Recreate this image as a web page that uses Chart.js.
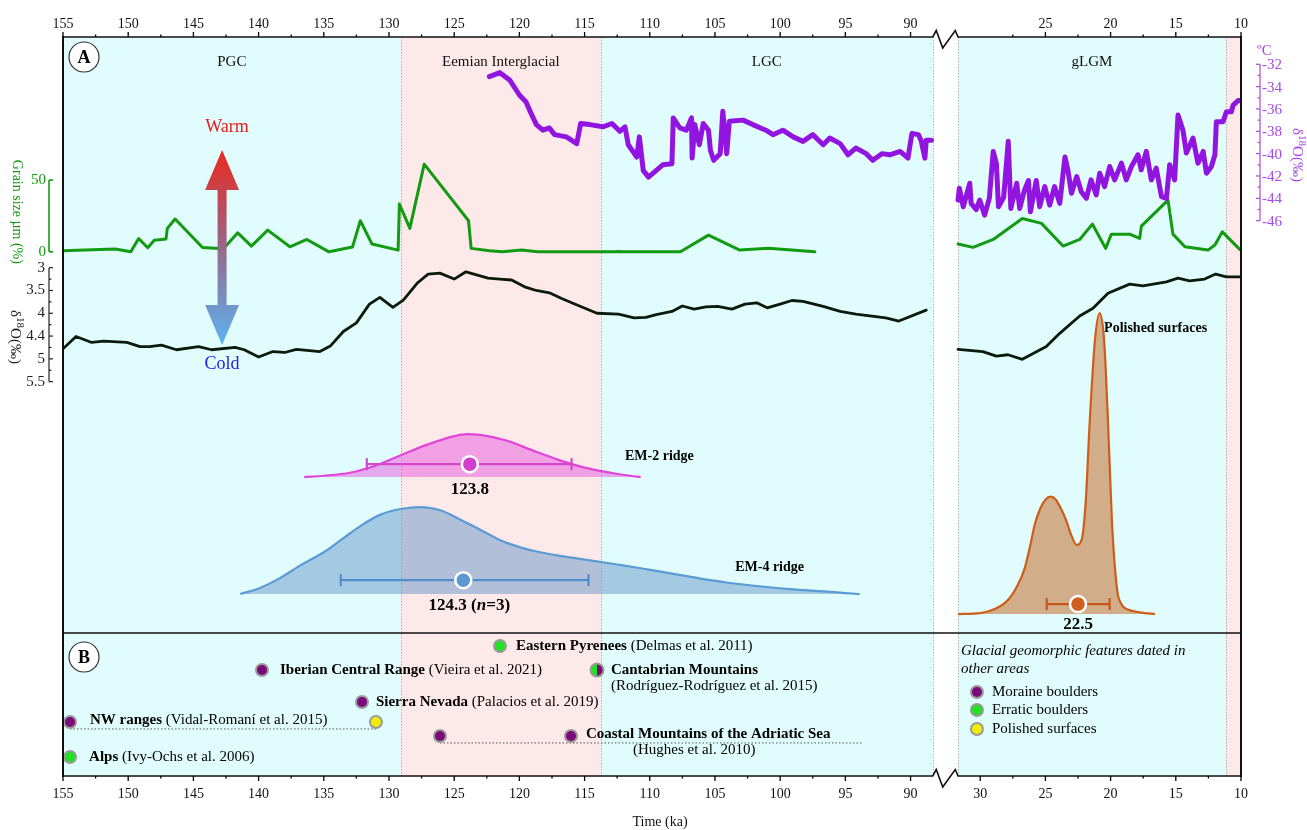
<!DOCTYPE html>
<html lang="en">
<head>
<meta charset="UTF-8">
<title>Glacial chronology and palaeoclimate records</title>
<script src="https://cdn.jsdelivr.net/npm/chart.js@4"></script>
<style>
  body { margin: 0; background: #fff; }
</style>
</head>
<body>
<canvas id="chart" width="1307" height="830"></canvas>
<script>
// ---------------- data (ages in ka) ----------------
const topTicksLeft = [155, 150, 145, 140, 135, 130, 125, 120, 115, 110, 105, 100, 95, 90];
const topTicksRight = [25, 20, 15, 10];
const bottomTicksRight = [30, 25, 20, 15, 10];
const minorTicksLeft = [152.5, 147.5, 142.5, 137.5, 132.5, 127.5, 122.5, 117.5, 112.5, 107.5, 102.5, 97.5, 92.5];
const minorTicksRight = [27.5, 22.5, 17.5, 12.5];

const grainTicks = [0, 50];
const benthicTicks = [3, 3.5, 4, 4.5, 5, 5.5];
const benthicTickLabels = ['3', '3.5', '4', '4.4', '5', '5.5'];
const iceTicks = [-32, -34, -36, -38, -40, -42, -44, -46];

const periodNames = ['PGC', 'Eemian Interglacial', 'LGC', 'gLGM', ''];
const periodStart = [155, 129.1, 113.75, 31.7, 11.15];
const periodEnd = [129.1, 113.75, 88.3, 11.15, 10];
const periodColors = ['#e1fcfc', '#fde9e9', '#e1fcfc', '#e1fcfc', '#fde9e9'];

// grain size (%)
const grainAgeL = [155, 151.0, 149.8, 149.2, 148.5, 148.0, 147.1, 147.0, 146.4, 144.3, 142.7, 141.6, 140.55, 139.3, 137.6, 136.3, 134.6, 132.8, 132.2, 131.3, 129.3, 129.2, 128.4, 127.3, 123.9, 123.7, 122.3, 121.3, 119.85, 118.6, 112.7, 112.4, 112.05, 107.65, 105.5, 103.1, 100.9, 97.35];
const grainL = [0.7, 1.9, 0, 9.3, 2.8, 8.1, 9, 16.3, 22.8, 3, 2.1, 13.2, 4, 15.1, 3.5, 8.6, 0, 3.3, 21.6, 5.4, 1.2, 33.2, 16.3, 61, 21.6, 2.4, 0.7, 0, 1.2, 0, 0, 0.3, 0, 0, 11.6, 1.2, 2.4, 0];
const grainAgeR = [31.7, 30.55, 29.0, 26.77, 25.3, 23.65, 22.37, 21.4, 20.38, 19.94, 18.54, 17.77, 17.64, 15.6, 15.22, 14.3, 12.53, 12.0, 11.43, 10.1];
const grainR = [5.4, 3.1, 8.6, 23.2, 19.8, 4.0, 8.6, 19.3, 2.4, 12.3, 12.3, 9.3, 17.9, 36.0, 12.3, 3.5, 1.2, 4.7, 13.9, 1.7];

// benthic d18O (permil)
const benthicAgeL = [155, 154.0, 152.8, 151.9, 150.1, 149.1, 148.35, 147.45, 146.3, 144.6, 143.6, 141.8, 141.1, 140.0, 138.9, 138.0, 137.1, 135.3, 134.5, 133.5, 132.5, 131.5, 130.7, 129.7, 128.9, 127.8, 127.0, 126.1, 125.0, 124.1, 122.4, 121.5, 120.6, 119.6, 118.7, 117.7, 116.8, 115.9, 114.05, 112.4, 111.2, 110.3, 109.5, 108.3, 107.5, 106.6, 105.7, 104.8, 103.7, 102.7, 101.8, 101.0, 100.0, 99.1, 98.25, 96.7, 95.4, 94.2, 91.9, 90.9, 88.8];
const benthicL = [4.78, 4.51, 4.64, 4.61, 4.64, 4.73, 4.73, 4.70, 4.80, 4.73, 4.80, 4.75, 4.80, 4.96, 4.84, 4.86, 4.79, 4.84, 4.72, 4.40, 4.21, 3.80, 3.65, 3.87, 3.71, 3.33, 3.14, 3.12, 3.25, 3.09, 3.23, 3.25, 3.27, 3.42, 3.50, 3.55, 3.67, 3.78, 4.00, 4.02, 4.10, 4.09, 4.03, 3.96, 3.84, 3.91, 3.86, 3.85, 3.91, 3.80, 3.77, 3.88, 3.80, 3.72, 3.74, 3.85, 3.96, 4.02, 4.10, 4.17, 3.93];
const benthicAgeR = [31.7, 29.8, 28.76, 27.87, 26.77, 24.93, 23.9, 22.37, 21.35, 20.2, 18.54, 17.52, 15.72, 14.83, 13.94, 12.79, 11.94, 11.12, 10.0];
const benthicR = [4.79, 4.84, 4.94, 4.91, 5.01, 4.73, 4.44, 4.06, 3.89, 3.56, 3.36, 3.40, 3.31, 3.23, 3.29, 3.25, 3.14, 3.20, 3.20];

// ice-core d18O (permil)
const iceAgeL = [122.3, 121.5, 120.75, 120.0, 119.5, 119.1, 118.7, 118.2, 117.7, 117.3, 116.4, 115.6, 115.3, 114.6, 113.6, 112.9, 112.3, 111.9, 111.65, 111.0, 110.8, 110.5, 110.1, 109.5, 109.0, 108.3, 108.2, 107.7, 107.2, 106.8, 106.75, 106.55, 106.2, 105.9, 105.5, 105.35, 105.1, 104.6, 104.4, 104.1, 103.9, 102.85, 102.1, 101.1, 100.55, 99.8, 99.0, 98.25, 97.5, 96.7, 96.2, 95.4, 94.8, 94.2, 93.4, 92.9, 92.2, 91.6, 90.8, 90.2, 89.9, 89.4, 89.2, 88.9, 88.8, 88.4];
const iceL = [-33.1, -32.75, -33.4, -34.75, -35.35, -36.4, -37.4, -37.9, -37.7, -38.3, -38.5, -39.1, -37.3, -37.4, -37.6, -37.3, -38.0, -37.6, -39.2, -40.3, -38.5, -41.5, -42.1, -41.5, -41.0, -40.9, -36.8, -37.7, -37.9, -36.8, -40.4, -37.4, -39.2, -37.3, -37.9, -39.7, -40.6, -40.0, -36.2, -40.0, -37.1, -37.0, -37.4, -37.9, -38.3, -37.9, -38.5, -38.9, -38.3, -39.2, -38.6, -39.1, -40.1, -39.5, -40.0, -40.6, -40.0, -40.1, -39.8, -40.4, -38.2, -38.3, -38.8, -40.4, -38.8, -38.8];
const iceAgeR = [31.7, 31.6, 31.3, 30.8, 30.7, 30.3, 30.04, 29.66, 29.3, 29.0, 28.76, 28.6, 28.2, 27.85, 27.65, 27.2, 26.97, 26.6, 26.3, 26.15, 25.7, 25.44, 25.05, 24.67, 24.3, 23.9, 23.5, 23.27, 23.0, 22.6, 22.25, 21.86, 21.5, 21.1, 20.84, 20.46, 20.07, 19.69, 19.17, 18.8, 18.4, 17.9, 17.65, 17.26, 16.88, 16.5, 16.1, 15.72, 15.47, 15.09, 14.83, 14.45, 14.19, 13.68, 13.3, 12.9, 12.65, 12.27, 12.0, 11.89, 11.38, 11.12, 10.74, 10.6, 10.23, 10.1];
const iceR = [-44.15, -43.1, -44.75, -42.65, -44.45, -45.0, -44.15, -45.5, -44.0, -39.8, -40.9, -44.75, -43.9, -38.9, -44.9, -42.65, -44.9, -43.25, -42.4, -45.2, -42.4, -44.75, -42.95, -44.6, -42.95, -44.45, -40.3, -41.5, -43.55, -42.05, -43.4, -44.0, -42.35, -43.7, -41.75, -42.95, -41.15, -42.35, -40.85, -42.35, -41.15, -40.1, -41.45, -39.8, -42.35, -41.3, -43.85, -44.0, -41.0, -42.35, -36.55, -37.9, -39.95, -38.6, -40.85, -39.8, -41.75, -41.15, -40.1, -37.15, -37.15, -36.25, -36.25, -35.65, -35.25, -35.25];

// probability density of exposure ages (relative)
const em2Age = [136.5, 135, 133, 131, 129, 127, 125, 124, 123, 121, 119, 117, 115, 113, 111.5, 110.7];
const em2Pdf = [0, 0.03, 0.1, 0.27, 0.52, 0.76, 0.95, 1.0, 0.98, 0.85, 0.62, 0.4, 0.22, 0.1, 0.03, 0];
const em4Age = [141.4, 139.9, 138.4, 136.8, 135, 133.7, 132, 130.7, 129, 127.6, 126, 124.6, 123, 121.5, 120, 118.4, 116.5, 114.7, 112.5, 110.8, 108.5, 106.2, 104, 101.6, 99, 97, 95, 93.9];
const em4Pdf = [0, 0.07, 0.18, 0.33, 0.48, 0.62, 0.8, 0.91, 0.98, 1.0, 0.96, 0.86, 0.74, 0.62, 0.54, 0.48, 0.43, 0.39, 0.34, 0.3, 0.24, 0.18, 0.13, 0.09, 0.055, 0.035, 0.012, 0];
const polAge = [31.7, 30, 29.3, 28.5, 27.8, 27.2, 26.6, 26.2, 25.8, 25.4, 25.0, 24.6, 24.2, 23.8, 23.4, 23.0, 22.6, 22.2, 21.9, 21.6, 21.2, 20.84, 20.5, 20.2, 19.9, 19.5, 19.2, 18.9, 18.3, 17.5, 16.6];
const polPdf = [0, 0.003, 0.01, 0.025, 0.05, 0.09, 0.15, 0.22, 0.3, 0.35, 0.38, 0.39, 0.38, 0.35, 0.31, 0.26, 0.23, 0.25, 0.38, 0.64, 0.91, 1.0, 0.91, 0.64, 0.31, 0.08, 0.035, 0.02, 0.01, 0.004, 0];

// mean ages with uncertainty range
const meanAges = [123.8, 124.3, 22.5];
const meanLow = [131.7, 133.7, 24.9];
const meanHigh = [116.0, 114.7, 20.07];
const meanLevel = [0.30, 0.16, 0.033];
const meanLabels = ['123.8', '124.3 (n=3)', '22.5'];

// panel B: dated sites (rows counted down from the panel top)
const moraineAge = [139.74, 132.07, 154.46, 126.09, 116.04];
const moraineRow = [2.59, 4.83, 6.22, 7.2, 7.2];
const erraticAge = [121.49, 154.46];
const erraticRow = [0.91, 8.67];
const polishedAge = [131.0];
const polishedRow = [6.22];
const mixedAge = [114.05];
const mixedRow = [2.59];
const nwLinkAge = [154.46, 131.0];
const adriaticLinkAge = [126.09, 93.75];

const siteNames = ['Eastern Pyrenees', 'Iberian Central Range', 'Cantabrian Mountains', 'Sierra Nevada', 'NW ranges', 'Coastal Mountains of the Adriatic Sea', 'Alps'];
const siteRefs = [' (Delmas et al. 2011)', ' (Vieira et al. 2021)', '', ' (Palacios et al. 2019)', ' (Vidal-Romaní et al. 2015)', '', ' (Ivy-Ochs et al. 2006)'];
const siteLabelAge = [120.26, 138.36, 112.98, 131.0, 152.93, 114.9, 153.0];
const siteLabelRow = [0.91, 2.59, 2.59, 4.83, 6.08, 7.06, 8.67];
const extraRefs = ['(Rodríguez-Rodríguez et al. 2015)', '(Hughes et al. 2010)'];
const extraRefAge = [112.98, 111.29];
const extraRefRow = [3.71, 8.18];

const legendNames = ['Moraine boulders', 'Erratic boulders', 'Polished surfaces'];
const legendRow = [4.13, 5.38, 6.71];

// ---------------- broken time axis ----------------
const BREAK_OLD = 88.3, BREAK_YOUNG = 31.7, GAP = 1.94;
function toU(ka) {
  return ka >= 60 ? 155 - ka : (155 - BREAK_OLD) + GAP + (BREAK_YOUNG - ka);
}
function pts(ages, vals) {
  return ages.map((a, i) => ({ x: toU(a), y: vals[i] }));
}
function flat(ages, level) {
  return ages.map(a => ({ x: toU(a), y: level }));
}

const SERIF = '"Liberation Serif", "Times New Roman", serif';
const GREEN = '#129a12';
const PURPLE = '#9214e0';
const PURPLE_AXIS = '#a848e8';

// split marker (erratic + moraine)
const mixed = document.createElement('canvas');
mixed.width = 16; mixed.height = 16;
(function () {
  const c = mixed.getContext('2d');
  c.beginPath(); c.arc(8, 8, 6.5, Math.PI / 2, Math.PI * 1.5); c.fillStyle = '#22e022'; c.fill();
  c.beginPath(); c.arc(8, 8, 6.5, -Math.PI / 2, Math.PI / 2); c.fillStyle = '#7a0a7a'; c.fill();
  c.beginPath(); c.arc(8, 8, 6.5, 0, Math.PI * 2); c.strokeStyle = '#999'; c.lineWidth = 2; c.stroke();
})();

function marker(data, color) {
  return {
    data, yAxisID: 'yR', showLine: false,
    pointRadius: 6, pointBackgroundColor: color, pointBorderColor: '#9a9a9a', pointBorderWidth: 2
  };
}
function errBar(i, color, axis) {
  return {
    data: [{ x: toU(meanLow[i]), y: meanLevel[i] }, { x: toU(meanHigh[i]), y: meanLevel[i] }],
    yAxisID: axis, borderColor: color, borderWidth: 2.2,
    pointStyle: 'line', pointRotation: 90, pointRadius: 6, pointBorderWidth: 2.2, pointBorderColor: color
  };
}
function meanDot(i, color, axis) {
  return {
    data: [{ x: toU(meanAges[i]), y: meanLevel[i] }], yAxisID: axis, showLine: false,
    pointRadius: 8, pointBackgroundColor: color, pointBorderColor: '#fff', pointBorderWidth: 2.5
  };
}
function pdf(ages, vals, axis, line, fill) {
  return {
    data: pts(ages, vals), yAxisID: axis, borderColor: line, borderWidth: 2.2,
    backgroundColor: fill, fill: 'origin', pointRadius: 0, cubicInterpolationMode: 'monotone'
  };
}
function curve(ages, vals, axis, color, width) {
  return {
    data: pts(ages, vals), yAxisID: axis, borderColor: color, borderWidth: width,
    borderJoinStyle: 'round', borderCapStyle: 'round', pointRadius: 0, tension: 0
  };
}

const datasets = [
  marker(pts(mixedAge, mixedRow), '#7a0a7a'),
  marker(pts(moraineAge, moraineRow), '#7a0a7a'),
  marker(pts(erraticAge, erraticRow), '#22e022'),
  marker(pts(polishedAge, polishedRow), '#f2ec0a'),
  marker(flat([30.25], legendRow[0]), '#7a0a7a'),
  marker(flat([30.25], legendRow[1]), '#22e022'),
  marker(flat([30.25], legendRow[2]), '#f2ec0a'),
  { data: flat(nwLinkAge, 6.71), yAxisID: 'yR', borderColor: '#555', borderWidth: 1, borderDash: [1.5, 2], pointRadius: 0 },
  { data: flat(adriaticLinkAge, 7.69), yAxisID: 'yR', borderColor: '#555', borderWidth: 1, borderDash: [1.5, 2], pointRadius: 0 },
  meanDot(0, '#d23fcf', 'yP'),
  meanDot(1, '#5b98d2', 'yE'),
  meanDot(2, '#cf5f1c', 'yO'),
  errBar(0, '#d447ce', 'yP'),
  errBar(1, '#4f8ecb', 'yE'),
  errBar(2, '#c8561a', 'yO'),
  pdf(em2Age, em2Pdf, 'yP', '#e046da', 'rgba(230,100,222,0.55)'),
  pdf(em4Age, em4Pdf, 'yE', '#5b9bd5', 'rgba(104,150,200,0.5)'),
  pdf(polAge, polPdf, 'yO', '#cc5e18', 'rgba(200,120,60,0.6)'),
  curve(iceAgeL, iceL, 'yI', PURPLE, 5),
  curve(iceAgeR, iceR, 'yI', PURPLE, 5),
  curve(grainAgeL, grainL, 'yG', GREEN, 3),
  curve(grainAgeR, grainR, 'yG', GREEN, 3),
  curve(benthicAgeL, benthicL, 'yB', '#0c1a0c', 2.8),
  curve(benthicAgeR, benthicR, 'yB', '#0c1a0c', 2.8)
];
datasets[0].pointStyle = mixed;

// ---------------- decorations ----------------
function seg(ctx, x1, y1, x2, y2) {
  ctx.beginPath(); ctx.moveTo(x1, y1); ctx.lineTo(x2, y2); ctx.stroke();
}
function rich(ctx, x, y, parts, size) {
  let cx = x;
  parts.forEach(([t, bold]) => {
    ctx.font = (bold ? 'bold ' : '') + size + 'px ' + SERIF;
    ctx.fillText(t, cx, y);
    cx += ctx.measureText(t).width;
  });
}
function deltaLabel(ctx, cx, cy, color) {
  ctx.save();
  ctx.translate(cx, cy);
  ctx.rotate(Math.PI / 2);
  ctx.fillStyle = color;
  ctx.textAlign = 'left';
  ctx.textBaseline = 'middle';
  const parts = [['δ', 15, 0], ['18', 11, -5], ['O(‰)', 15, 0]];
  let w = 0;
  parts.forEach(p => { ctx.font = p[1] + 'px ' + SERIF; w += ctx.measureText(p[0]).width; });
  let x = -w / 2;
  parts.forEach(p => { ctx.font = p[1] + 'px ' + SERIF; ctx.fillText(p[0], x, p[2]); x += ctx.measureText(p[0]).width; });
  ctx.restore();
}
function panelTag(ctx, x, y, t) {
  ctx.beginPath(); ctx.arc(x, y, 15, 0, Math.PI * 2);
  ctx.fillStyle = '#fff'; ctx.fill();
  ctx.strokeStyle = '#333'; ctx.lineWidth = 1.2; ctx.stroke();
  ctx.fillStyle = '#000'; ctx.font = 'bold 18px ' + SERIF;
  ctx.textAlign = 'center'; ctx.textBaseline = 'middle';
  ctx.fillText(t, x, y + 1);
}

const decor = {
  id: 'decor',
  beforeDatasetsDraw(chart) {
    const { ctx, chartArea: a, scales } = chart;
    const X = ka => scales.x.getPixelForValue(toU(ka));
    ctx.save();
    for (let i = 0; i < periodNames.length; i++) {
      const x1 = X(periodStart[i]), x2 = X(periodEnd[i]);
      ctx.fillStyle = periodColors[i];
      ctx.fillRect(x1, a.top, x2 - x1, a.bottom - a.top);
    }
    ctx.strokeStyle = '#b0b0b0'; ctx.lineWidth = 1; ctx.setLineDash([1.5, 1.5]);
    [129.1, 113.75, 88.3, 31.7, 11.15].forEach(b => {
      const p = Math.round(X(b)) + 0.5;
      seg(ctx, p, a.top, p, a.bottom);
    });
    ctx.restore();
  },
  afterDatasetsDraw(chart) {
    const { ctx, chartArea: a, scales } = chart;
    const X = ka => scales.x.getPixelForValue(toU(ka));
    const yR = scales.yR;
    ctx.save();

    // panel divider
    const yDiv = yR.getPixelForValue(0);
    ctx.strokeStyle = '#111'; ctx.lineWidth = 1.6;
    seg(ctx, a.left, yDiv, a.right, yDiv);

    // frame + broken time axes
    ctx.lineWidth = 2;
    seg(ctx, a.left, a.top - 1, a.left, a.bottom + 1);
    seg(ctx, a.right, a.top - 1, a.right, a.bottom + 1);
    const xb = X(BREAK_OLD), xe = X(BREAK_YOUNG);
    [a.top, a.bottom].forEach(y => {
      ctx.lineWidth = 1.6;
      ctx.beginPath();
      ctx.moveTo(a.left, y); ctx.lineTo(xb, y);
      ctx.lineTo(xb + 3.5, y - 6.5); ctx.lineTo(xb + 10, y + 11);
      ctx.lineTo(xb + 22.5, y - 6.5); ctx.lineTo(xe, y); ctx.lineTo(a.right, y);
      ctx.stroke();
    });

    // ticks
    ctx.lineWidth = 1.3; ctx.strokeStyle = '#000';
    const majTop = topTicksLeft.concat(topTicksRight);
    const majBot = topTicksLeft.concat(bottomTicksRight);
    const minors = minorTicksLeft.concat(minorTicksRight);
    majTop.forEach(t => seg(ctx, X(t), a.top, X(t), a.top - 5));
    majBot.forEach(t => seg(ctx, X(t), a.bottom, X(t), a.bottom + 5));
    minors.forEach(t => { seg(ctx, X(t), a.top, X(t), a.top - 2.5); seg(ctx, X(t), a.bottom, X(t), a.bottom + 2.5); });
    ctx.fillStyle = '#111'; ctx.font = '14px ' + SERIF; ctx.textAlign = 'center'; ctx.textBaseline = 'alphabetic';
    majTop.forEach(t => ctx.fillText(String(t), X(t), a.top - 9));
    majBot.forEach(t => ctx.fillText(String(t), X(t), a.bottom + 22));
    ctx.font = '14px ' + SERIF;
    ctx.fillText('Time (ka)', (a.left + a.right) / 2 + 8, a.bottom + 50);

    // period names
    ctx.font = '15px ' + SERIF; ctx.textBaseline = 'middle';
    for (let i = 0; i < periodNames.length; i++) {
      ctx.fillText(periodNames[i], (X(periodStart[i]) + X(periodEnd[i])) / 2, a.top + 25);
    }

    // grain size axis
    const yG = scales.yG;
    const gx = 49;
    ctx.strokeStyle = GREEN; ctx.fillStyle = GREEN; ctx.lineWidth = 1.6;
    seg(ctx, gx, yG.getPixelForValue(50), gx, yG.getPixelForValue(0));
    ctx.font = '15px ' + SERIF; ctx.textAlign = 'right'; ctx.textBaseline = 'middle';
    grainTicks.forEach(t => {
      const y = yG.getPixelForValue(t);
      seg(ctx, gx, y, gx + 4, y);
      ctx.fillText(String(t), gx - 3, y);
    });
    ctx.save();
    ctx.translate(17, (yG.getPixelForValue(50) + yG.getPixelForValue(0)) / 2 - 4);
    ctx.rotate(Math.PI / 2);
    ctx.textAlign = 'center'; ctx.font = '14px ' + SERIF;
    ctx.fillText('Grain size µm (%)', 0, 0);
    ctx.restore();

    // benthic d18O axis
    const yB = scales.yB;
    ctx.strokeStyle = '#222'; ctx.fillStyle = '#222'; ctx.lineWidth = 1.2;
    seg(ctx, gx, yB.getPixelForValue(3), gx, yB.getPixelForValue(5.5));
    for (let v = 3; v <= 5.5001; v += 0.25) {
      const y = yB.getPixelForValue(v);
      seg(ctx, gx, y, gx + (Math.abs(v * 2 - Math.round(v * 2)) < 0.01 ? 4 : 2.5), y);
    }
    ctx.font = '15px ' + SERIF; ctx.textAlign = 'right';
    benthicTicks.forEach((t, i) => ctx.fillText(benthicTickLabels[i], gx - 4, yB.getPixelForValue(t)));
    deltaLabel(ctx, 15, 337, '#222');

    // ice-core axis (right)
    const yI = scales.yI;
    const ix = 1260;
    ctx.strokeStyle = PURPLE_AXIS; ctx.fillStyle = PURPLE_AXIS; ctx.lineWidth = 1.2;
    seg(ctx, ix, yI.getPixelForValue(-32), ix, yI.getPixelForValue(-46));
    for (let v = -32; v >= -46; v--) {
      const y = yI.getPixelForValue(v);
      seg(ctx, ix, y, ix - (v % 2 === 0 ? 4 : 2.5), y);
    }
    ctx.font = '15px ' + SERIF; ctx.textAlign = 'left';
    iceTicks.forEach(t => ctx.fillText(String(t), ix + 2, yI.getPixelForValue(t) + 1));
    ctx.fillText('ºC', ix - 3, yI.getPixelForValue(-32) - 13);
    deltaLabel(ctx, 1297, 155, PURPLE_AXIS);

    // density labels
    ctx.fillStyle = '#000'; ctx.textAlign = 'center';
    const pdfAxes = ['yP', 'yE', 'yO'];
    const labelDrop = [25, 25, 20];
    meanAges.forEach((m, i) => {
      const y = scales[pdfAxes[i]].getPixelForValue(meanLevel[i]) + labelDrop[i];
      if (i === 1) {
        ctx.textAlign = 'left';
        const parts = [['124.3 (', true], ['n', 'i'], ['=3)', true]];
        let w = 0;
        parts.forEach(p => { ctx.font = (p[1] === 'i' ? 'bold italic ' : 'bold ') + '17px ' + SERIF; w += ctx.measureText(p[0]).width; });
        let cx = X(m) - w / 2 + 6;
        parts.forEach(p => { ctx.font = (p[1] === 'i' ? 'bold italic ' : 'bold ') + '17px ' + SERIF; ctx.fillText(p[0], cx, y); cx += ctx.measureText(p[0]).width; });
        ctx.textAlign = 'center';
      } else {
        ctx.font = 'bold 17px ' + SERIF;
        ctx.fillText(meanLabels[i], X(m), y);
      }
    });
    ctx.textAlign = 'left'; ctx.font = 'bold 14px ' + SERIF;
    ctx.fillText('EM-2 ridge', X(111.9), scales.yP.getPixelForValue(0.47));
    ctx.fillText('EM-4 ridge', X(103.45), scales.yE.getPixelForValue(0.31));
    ctx.fillText('Polished surfaces', X(20.5), scales.yO.getPixelForValue(0.95));

    // panel B site labels
    ctx.fillStyle = '#000'; ctx.textBaseline = 'middle';
    siteNames.forEach((n, i) => {
      rich(ctx, X(siteLabelAge[i]), yR.getPixelForValue(siteLabelRow[i]), [[n, true], [siteRefs[i], false]], 15);
    });
    extraRefs.forEach((t, i) => rich(ctx, X(extraRefAge[i]), yR.getPixelForValue(extraRefRow[i]), [[t, false]], 15));
    ctx.font = 'italic 15px ' + SERIF;
    ctx.fillText('Glacial geomorphic features dated in', X(31.47), yR.getPixelForValue(1.26));
    ctx.fillText('other areas', X(31.47), yR.getPixelForValue(2.52));
    ctx.font = '15px ' + SERIF;
    legendNames.forEach((n, i) => ctx.fillText(n, X(29.1), yR.getPixelForValue(legendRow[i])));

    // warm / cold arrow
    const ax = X(142.8);
    const g = ctx.createLinearGradient(0, 150, 0, 345);
    g.addColorStop(0, '#ea2a1e'); g.addColorStop(0.45, '#a06080'); g.addColorStop(1, '#5ab4f2');
    ctx.fillStyle = g;
    ctx.beginPath();
    ctx.moveTo(ax, 150); ctx.lineTo(ax + 17, 190); ctx.lineTo(ax + 4.5, 190); ctx.lineTo(ax + 4.5, 305);
    ctx.lineTo(ax + 17, 305); ctx.lineTo(ax, 345); ctx.lineTo(ax - 17, 305); ctx.lineTo(ax - 4.5, 305);
    ctx.lineTo(ax - 4.5, 190); ctx.lineTo(ax - 17, 190); ctx.closePath(); ctx.fill();
    ctx.textAlign = 'center'; ctx.font = '18px ' + SERIF;
    ctx.fillStyle = '#e61c1c'; ctx.fillText('Warm', ax + 5, 127);
    ctx.fillStyle = '#1c1cf0'; ctx.fillText('Cold', ax, 364);

    panelTag(ctx, 84, 57, 'A');
    panelTag(ctx, 84, 657, 'B');
    ctx.restore();
  }
};

const hidden = (min, max, reverse) => ({ type: 'linear', display: false, min, max, reverse: !!reverse });

new Chart(document.getElementById('chart'), {
  type: 'line',
  data: { datasets },
  options: {
    responsive: false,
    animation: false,
    devicePixelRatio: 1,
    layout: { padding: { left: 63, right: 66, top: 37, bottom: 54 } },
    plugins: { legend: { display: false }, tooltip: { enabled: false } },
    scales: {
      x: { type: 'linear', display: false, min: 0, max: toU(10) },
      yG: hidden(-364.8, 149.5),
      yB: hidden(-2.06, 14.15, true),
      yI: hidden(-95.7, -29.56),
      yP: hidden(-6.95, 10.23),
      yE: hidden(-2.09, 6.40),
      yO: hidden(-0.538, 1.917),
      yR: hidden(-41.68, 10, true)
    }
  },
  plugins: [decor]
});
</script>
</body>
</html>
